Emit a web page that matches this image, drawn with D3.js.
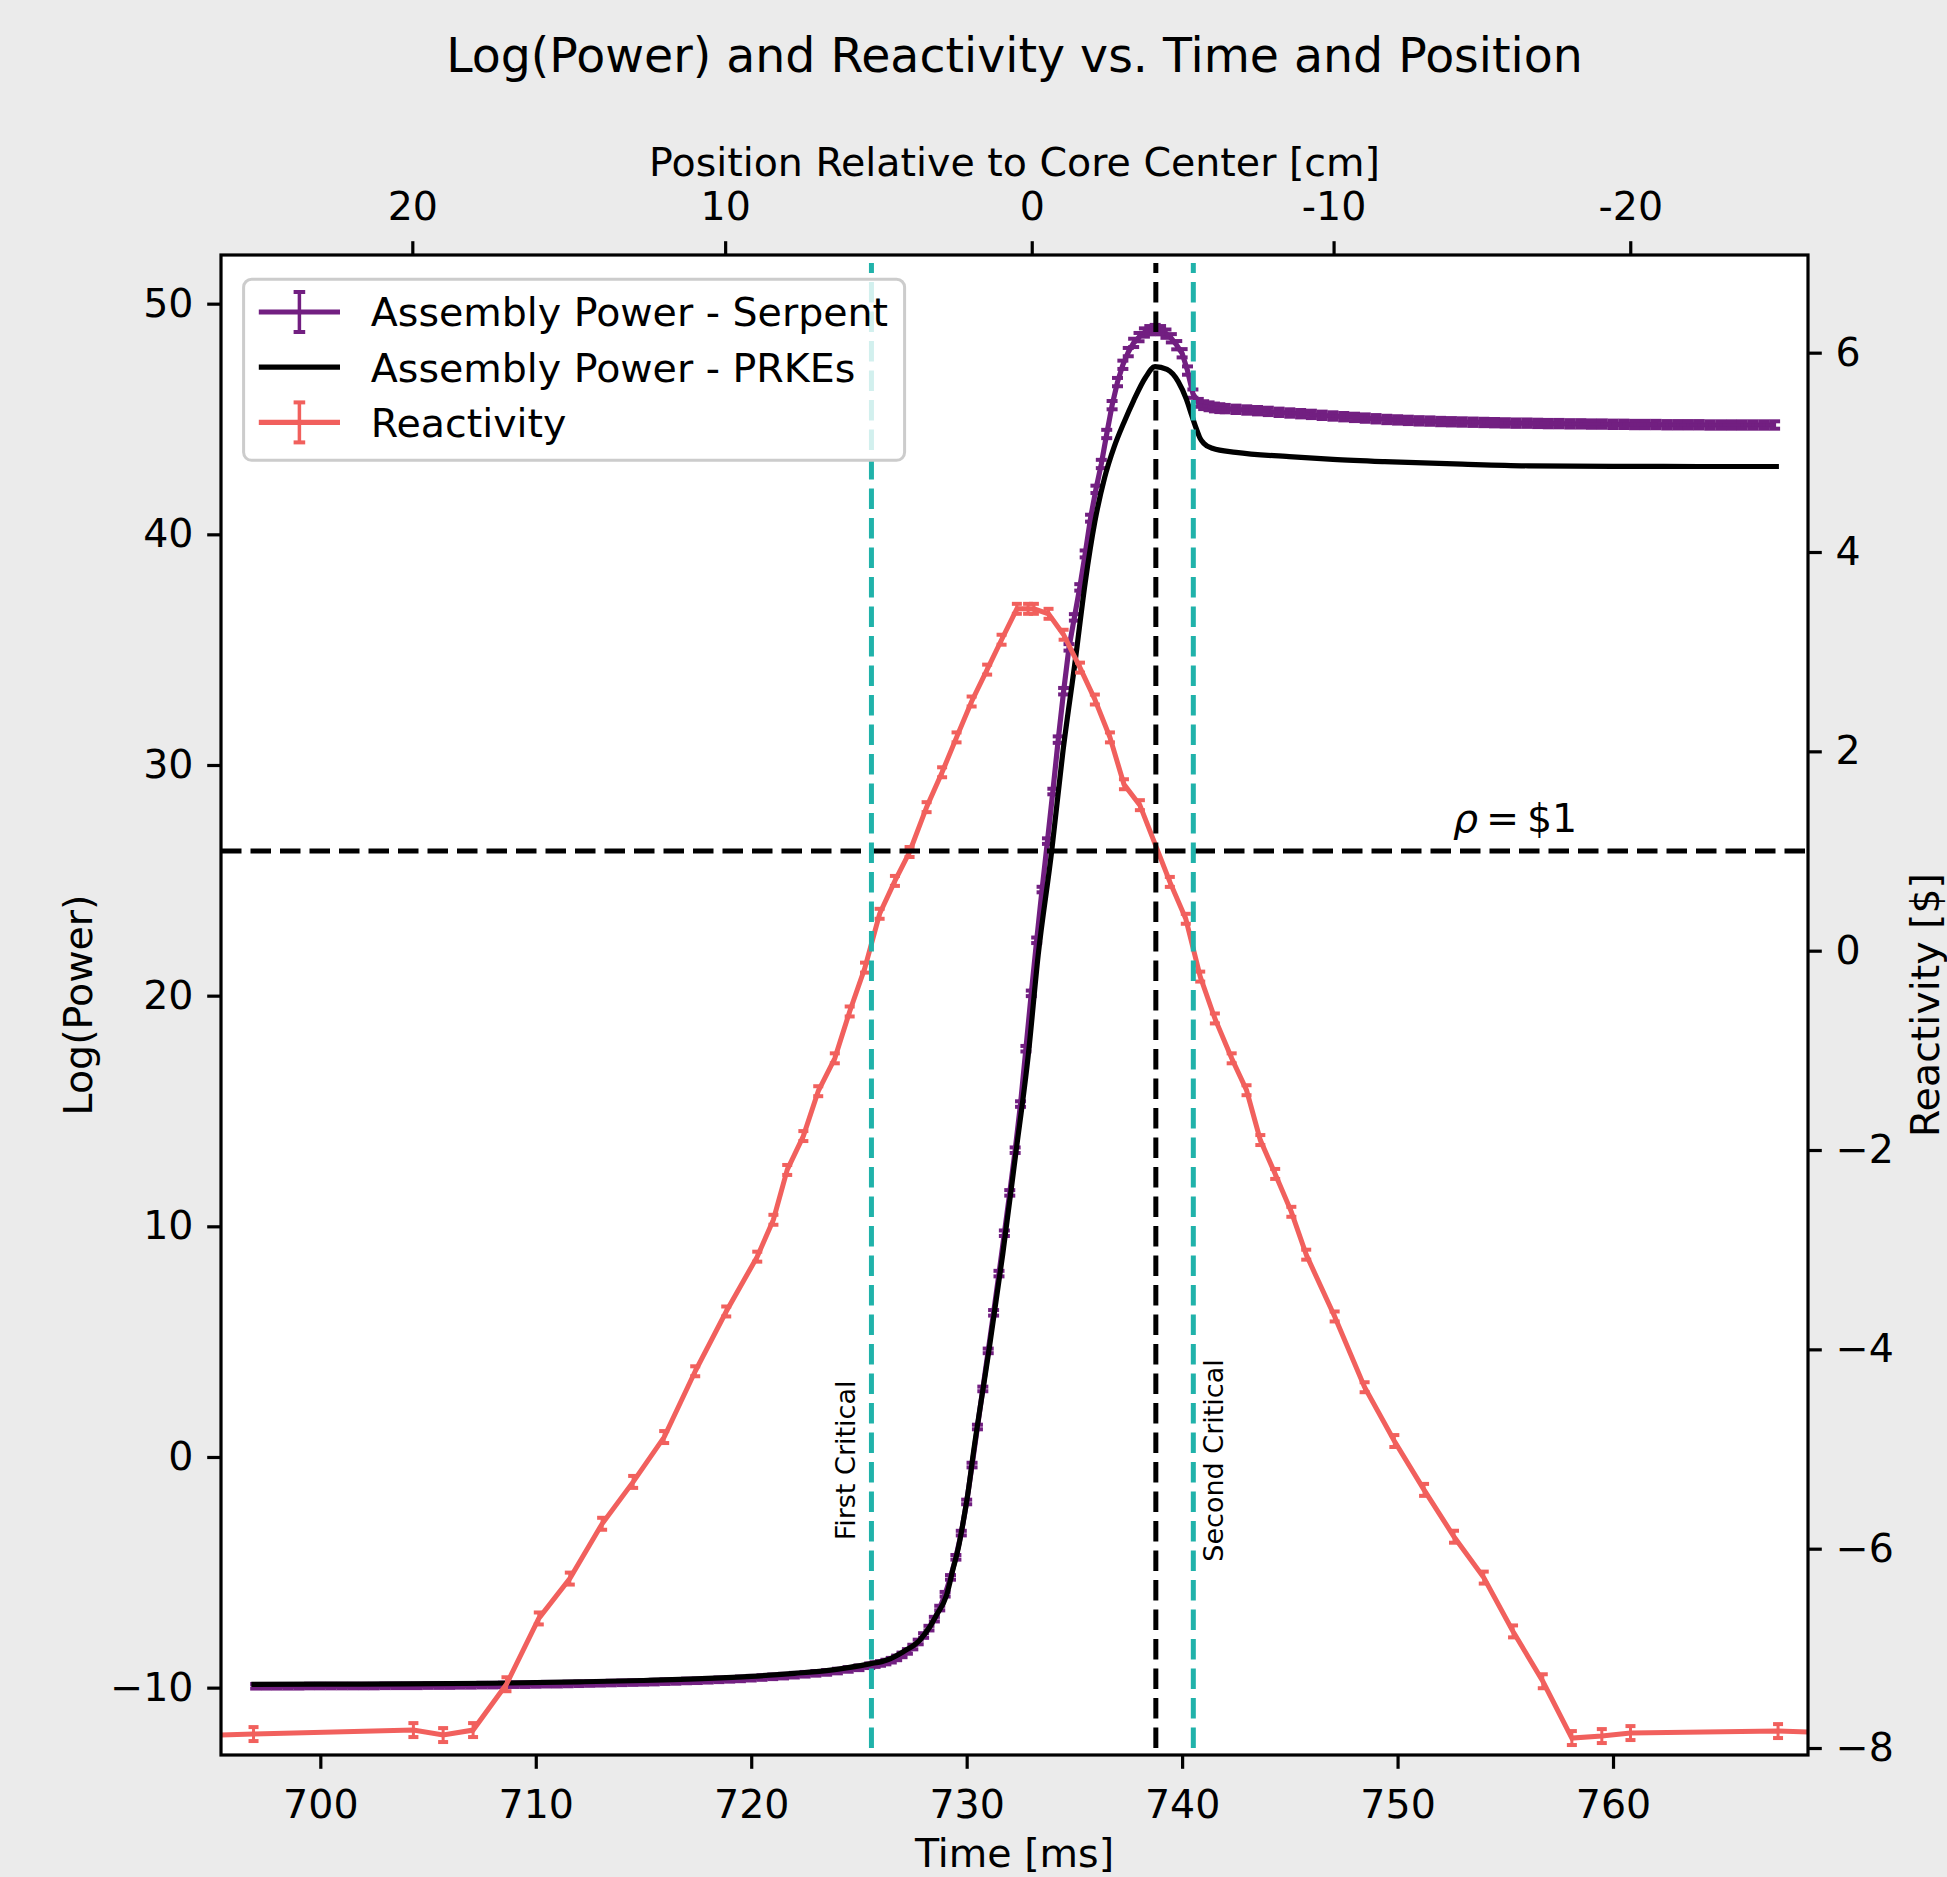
<!DOCTYPE html>
<html>
<head>
<meta charset="utf-8">
<script src="https://cdn.jsdelivr.net/npm/d3@7"></script>
<style>
  body { margin: 0; background: #ebebeb; }
  text { font-family: "DejaVu Sans", sans-serif; }
</style>
</head>
<body>
<svg id="chart"></svg>
<script>
// ---- data ----
const timeTicks = [700, 710, 720, 730, 740, 750, 760];
const logPowerTicks = [-10, 0, 10, 20, 30, 40, 50];
const reactivityTicks = [-8, -6, -4, -2, 0, 2, 4, 6];
// top axis: rod position [cm] and the time [ms] at which it is reached
const positionTicks = [20, 10, 0, -10, -20];
const positionTickTimes = [704.27, 718.79, 733.02, 747.03, 760.80];

const criticalTimes = [725.58, 740.52];
const criticalLabels = ["First Critical", "Second Critical"];
const peakTime = 738.78;
const dollarLevel = 1;

// Serpent assembly power (log), with 1-sigma
const serpentTime = [
  697.0, 697.5, 698.0, 698.5, 699.0, 699.5, 700.0, 700.5, 701.0, 701.5, 702.0, 702.5, 703.0, 703.5,
  704.0, 704.5, 705.0, 705.5, 706.0, 706.5, 707.0, 707.5, 708.0, 708.5, 709.0, 709.5, 710.0, 710.5,
  711.0, 711.5, 712.0, 712.5, 713.0, 713.5, 714.0, 714.5, 715.0, 715.5, 716.0, 716.5, 717.0, 717.5,
  718.0, 718.5, 719.0, 719.5, 720.0, 720.5, 721.0, 721.5, 722.0, 722.5, 723.0, 723.5, 724.0, 724.5,
  725.0, 725.5,
  725.75, 726.0, 726.25, 726.5, 726.75, 727.0, 727.25, 727.5, 727.75, 728.0, 728.25, 728.5, 728.75,
  729.0, 729.25, 729.5, 729.75, 730.0, 730.25, 730.5, 730.75, 731.0, 731.25, 731.5, 731.75, 732.0,
  732.25, 732.5, 732.75, 733.0, 733.25, 733.5, 733.75, 734.0, 734.25, 734.5, 734.75, 735.0, 735.25,
  735.5, 735.75, 736.0, 736.25, 736.5, 736.75, 737.0, 737.25, 737.5, 737.75, 738.0, 738.25, 738.5,
  738.75, 739.0, 739.25, 739.5, 739.75, 740.0, 740.25, 740.5, 740.75, 741.0, 741.25, 741.5, 741.75,
  742.0, 742.5, 743.0, 743.5, 744.0, 744.5, 745.0, 745.5, 746.0, 746.5, 747.0, 747.5, 748.0, 748.5,
  749.0, 749.5, 750.0, 750.5, 751.0, 751.5, 752.0, 752.5, 753.0, 753.5, 754.0, 754.5, 755.0, 755.5,
  756.0, 756.5, 757.0, 757.5, 758.0, 758.5, 759.0, 759.5, 760.0, 760.5, 761.0, 761.5, 762.0, 762.5,
  763.0, 763.5, 764.0, 764.5, 765.0, 765.5, 766.0, 766.5, 767.0, 767.5
];
const serpentLogP = [
  -9.94, -9.94, -9.94, -9.94, -9.94, -9.93, -9.93, -9.93, -9.93, -9.93, -9.93, -9.93, -9.92, -9.92,
  -9.92, -9.92, -9.91, -9.91, -9.91, -9.90, -9.90, -9.89, -9.89, -9.88, -9.87, -9.87, -9.86, -9.85,
  -9.85, -9.84, -9.83, -9.82, -9.81, -9.80, -9.79, -9.78, -9.77, -9.76, -9.74, -9.73, -9.71, -9.70,
  -9.68, -9.66, -9.64, -9.62, -9.59, -9.56, -9.53, -9.50, -9.46, -9.42, -9.38, -9.34, -9.28, -9.21,
  -9.14, -9.05,
  -9.00, -8.95, -8.89, -8.81, -8.71, -8.58, -8.43, -8.24, -8.02, -7.74, -7.42, -7.03, -6.55,
  -5.95, -5.22, -4.35, -3.30, -1.95, -0.35, 1.30, 2.95, 4.60, 6.25, 7.95, 9.70, 11.45,
  13.30, 15.30, 17.70, 20.10, 22.40, 24.60, 26.70, 28.85, 31.10, 33.20, 35.10, 36.40, 37.70,
  39.15, 40.70, 41.95, 43.05, 44.35, 45.60, 46.60, 47.35, 47.90, 48.30, 48.55, 48.75, 48.85,
  48.90, 48.85, 48.70, 48.50, 48.20, 47.85, 47.10, 46.10, 45.70, 45.60, 45.55, 45.50, 45.47,
  45.45, 45.42, 45.39, 45.36, 45.33, 45.29, 45.26, 45.23, 45.20, 45.16, 45.13, 45.10, 45.07, 45.04,
  45.01, 44.98, 44.96, 44.94, 44.92, 44.91, 44.89, 44.88, 44.87, 44.86, 44.85, 44.84, 44.83, 44.82,
  44.82, 44.81, 44.80, 44.80, 44.79, 44.79, 44.78, 44.78, 44.77, 44.77, 44.76, 44.76, 44.76, 44.75,
  44.75, 44.75, 44.75, 44.74, 44.74, 44.74, 44.74, 44.74, 44.74, 44.74
];
const serpentErr = [
  0.10, 0.10, 0.10, 0.10, 0.10, 0.10, 0.10, 0.10, 0.10, 0.10, 0.10, 0.10, 0.10, 0.10,
  0.10, 0.10, 0.10, 0.10, 0.10, 0.10, 0.10, 0.10, 0.10, 0.10, 0.10, 0.10, 0.10, 0.10,
  0.10, 0.10, 0.10, 0.10, 0.10, 0.10, 0.10, 0.10, 0.10, 0.10, 0.10, 0.10, 0.10, 0.10,
  0.10, 0.10, 0.10, 0.10, 0.10, 0.10, 0.10, 0.10, 0.10, 0.10, 0.10, 0.10, 0.10, 0.10,
  0.10, 0.10,
  0.10, 0.10, 0.10, 0.10, 0.10, 0.10, 0.10, 0.10, 0.10, 0.10, 0.10, 0.10, 0.10,
  0.10, 0.10, 0.10, 0.10, 0.10, 0.10, 0.10, 0.10, 0.10, 0.12, 0.12, 0.12, 0.12,
  0.12, 0.12, 0.12, 0.12, 0.12, 0.12, 0.12, 0.12, 0.14, 0.14, 0.14, 0.14, 0.14,
  0.15, 0.15, 0.16, 0.18, 0.18, 0.18, 0.18, 0.18, 0.18, 0.18, 0.18, 0.18, 0.18,
  0.18, 0.18, 0.18, 0.18, 0.18, 0.18, 0.18, 0.18, 0.17, 0.17, 0.17, 0.17, 0.17,
  0.16, 0.16, 0.16, 0.16, 0.16, 0.16, 0.16, 0.16, 0.16, 0.16, 0.16, 0.16, 0.16, 0.16,
  0.16, 0.16, 0.16, 0.16, 0.16, 0.16, 0.16, 0.16, 0.16, 0.16, 0.16, 0.16, 0.16, 0.16,
  0.16, 0.16, 0.16, 0.16, 0.16, 0.16, 0.16, 0.16, 0.16, 0.16, 0.16, 0.16, 0.16, 0.16,
  0.16, 0.16, 0.16, 0.16, 0.16, 0.16, 0.16, 0.16, 0.16, 0.16
];

// point-kinetics (PRKE) assembly power (log)
const prkeTime = [
  696.8, 700.0, 704.0, 708.0, 712.0, 715.0, 718.0, 720.0, 722.0, 723.5, 724.5, 725.5, 726.3, 727.06,
  727.83, 728.29, 728.6, 729.07, 729.38, 729.61, 729.84, 730.07, 730.3, 731.0, 731.67, 732.27, 732.86,
  733.32, 733.94, 734.45, 735.05, 735.5, 735.95, 736.4, 736.85, 737.3, 737.75, 738.3, 738.74, 739.3,
  739.82, 740.2, 740.44, 740.65, 740.83, 741.0, 741.4, 742.5, 744.97, 747.0, 749.4, 753.0, 756.06,
  760.0, 764.0, 767.7
];
const prkeLogP = [
  -9.86, -9.85, -9.84, -9.81, -9.75, -9.69, -9.60, -9.51, -9.38, -9.26, -9.13, -8.97, -8.80, -8.44,
  -7.93, -7.36, -6.85, -5.98, -4.81, -3.96, -2.81, -1.50, 0.09, 4.42, 8.76, 13.09, 17.43,
  21.76, 26.22, 30.44, 34.60, 37.90, 40.55, 42.45, 43.80, 44.85, 45.80, 46.80, 47.27, 47.15,
  46.62, 45.85, 45.18, 44.60, 44.17, 43.95, 43.73, 43.55, 43.37, 43.25, 43.15, 43.04, 42.97,
  42.95, 42.94, 42.94
];

// reactivity [$], with 1-sigma
const reactTime = [
  690.0, 696.9, 704.32, 705.70, 707.09, 708.64, 710.14, 711.58, 713.08, 714.52, 715.96, 717.40, 718.84,
  720.28, 721.03, 721.67, 722.42, 723.11, 723.88, 724.57, 725.28, 725.96, 726.67, 727.35, 728.14,
  728.86, 729.53, 730.23, 730.95, 731.62, 732.33, 732.85, 733.12, 733.80, 734.50, 735.26, 735.95,
  736.65, 737.30, 738.04, 739.43, 740.17, 740.84, 741.52, 742.30, 742.99, 743.63, 744.32, 745.07,
  745.76, 747.08, 748.47, 749.85, 751.23, 752.62, 754.00, 755.36, 756.74, 758.09, 759.48, 760.81,
  767.66, 775.0
];
const reactDollars = [
  -7.90, -7.86, -7.82, -7.87, -7.82, -7.36, -6.70, -6.30, -5.75, -5.33, -4.88, -4.22, -3.62,
  -3.07, -2.70, -2.20, -1.86, -1.41, -1.08, -0.61, -0.17, 0.37, 0.70, 0.99, 1.44,
  1.79, 2.14, 2.50, 2.82, 3.12, 3.43, 3.43, 3.43, 3.38, 3.17, 2.84, 2.52,
  2.14, 1.67, 1.46, 0.69, 0.32, -0.26, -0.68, -1.08, -1.40, -1.90, -2.24, -2.62,
  -3.05, -3.67, -4.38, -4.92, -5.41, -5.88, -6.29, -6.83, -7.33, -7.90, -7.88, -7.85,
  -7.83, -7.88
];
const reactErr = [
  0.07, 0.07, 0.07, 0.07, 0.07, 0.07, 0.06, 0.06, 0.06, 0.06, 0.06, 0.05, 0.05,
  0.05, 0.05, 0.05, 0.05, 0.05, 0.05, 0.05, 0.05, 0.05, 0.05, 0.05, 0.05,
  0.05, 0.05, 0.05, 0.05, 0.05, 0.05, 0.05, 0.05, 0.05, 0.05, 0.05, 0.05,
  0.05, 0.05, 0.05, 0.05, 0.05, 0.05, 0.05, 0.05, 0.05, 0.05, 0.05, 0.05,
  0.05, 0.05, 0.05, 0.06, 0.06, 0.06, 0.06, 0.06, 0.07, 0.07, 0.07, 0.07,
  0.07, 0.07
];

// ---- layout ----
const W = 1947, H = 1877;
const margin = { top: 255, right: 139, bottom: 122, left: 221 };
const plotW = W - margin.left - margin.right;
const plotH = H - margin.top - margin.bottom;

const purple = "#721f81";
const coral = "#f1605d";
const teal = "#20b2aa";
const fontSize = 39.5;

const svg = d3.select("#chart").attr("width", W).attr("height", H);
svg.append("rect").attr("width", W).attr("height", H).attr("fill", "#ebebeb");

const x = d3.scaleLinear().domain([695.39, 769.05]).range([margin.left, margin.left + plotW]);
const yL = d3.scaleLinear().domain([-12.92, 52.11]).range([margin.top + plotH, margin.top]);
const yR = d3.scaleLinear().domain([-8.07, 6.98]).range([margin.top + plotH, margin.top]);
const posScale = d3.scaleLinear().domain(positionTicks).range(positionTickTimes.map(x));

svg.append("rect")
  .attr("x", margin.left).attr("y", margin.top)
  .attr("width", plotW).attr("height", plotH)
  .attr("fill", "#fff");

svg.append("clipPath").attr("id", "plot-clip")
  .append("rect")
  .attr("x", margin.left).attr("y", margin.top)
  .attr("width", plotW).attr("height", plotH);

const plot = svg.append("g").attr("clip-path", "url(#plot-clip)");

// draw vertical error bars with caps
function errorbars(g, xs, ys, errs, yScale, color, capHalf, capWidth) {
  const bars = g.append("g");
  xs.forEach((t, i) => {
    const cx = x(t);
    const y0 = yScale(ys[i] - errs[i]);
    const y1 = yScale(ys[i] + errs[i]);
    bars.append("line")
      .attr("x1", cx).attr("x2", cx).attr("y1", y0).attr("y2", y1)
      .attr("stroke", color).attr("stroke-width", 3);
    [y0, y1].forEach(yy => {
      bars.append("line")
        .attr("x1", cx - capHalf).attr("x2", cx + capHalf)
        .attr("y1", yy).attr("y2", yy)
        .attr("stroke", color).attr("stroke-width", capWidth);
    });
  });
}

// Serpent power
const serpentLine = d3.line().x((d, i) => x(serpentTime[i])).y(d => yL(d));
plot.append("path")
  .datum(serpentLogP)
  .attr("d", serpentLine)
  .attr("fill", "none")
  .attr("stroke", purple)
  .attr("stroke-width", 5.2);
errorbars(plot, serpentTime, serpentLogP, serpentErr, yL, purple, 5.5, 4);

// PRKE power
const prkeLine = d3.line()
  .x((d, i) => x(prkeTime[i]))
  .y(d => yL(d))
  .curve(d3.curveMonotoneX);
plot.append("path")
  .datum(prkeLogP)
  .attr("d", prkeLine)
  .attr("fill", "none")
  .attr("stroke", "#000")
  .attr("stroke-width", 5.2);

// reactivity
const reactLine = d3.line().x((d, i) => x(reactTime[i])).y(d => yR(d));
plot.append("path")
  .datum(reactDollars)
  .attr("d", reactLine)
  .attr("fill", "none")
  .attr("stroke", coral)
  .attr("stroke-width", 5);
errorbars(plot, reactTime, reactDollars, reactErr, yR, coral, 5, 4);

// $1 line
plot.append("line")
  .attr("x1", margin.left).attr("x2", margin.left + plotW)
  .attr("y1", yR(dollarLevel)).attr("y2", yR(dollarLevel))
  .attr("stroke", "#000").attr("stroke-width", 5)
  .attr("stroke-dasharray", "20.5,9");

// vertical markers (drawn bottom -> top so the dash pattern starts at the bottom)
const vlines = [
  { t: criticalTimes[0], color: teal },
  { t: peakTime, color: "#000" },
  { t: criticalTimes[1], color: teal }
];
vlines.forEach(v => {
  plot.append("line")
    .attr("x1", x(v.t)).attr("x2", x(v.t))
    .attr("y1", yR(-8)).attr("y2", yR(6.9))
    .attr("stroke", v.color).attr("stroke-width", 5)
    .attr("stroke-dasharray", "20.5,9");
});

// annotations
const critOffsets = [-16, 30];
criticalTimes.forEach((t, i) => {
  svg.append("text")
    .attr("transform", `translate(${x(t) + critOffsets[i]},${yL(-0.15)}) rotate(-90)`)
    .attr("text-anchor", "middle")
    .attr("font-size", 27)
    .attr("fill", "#000")
    .text(criticalLabels[i]);
});

const rho = svg.append("text")
  .attr("x", x(752.57)).attr("y", yR(1.19))
  .attr("font-size", fontSize)
  .attr("fill", "#000");
rho.append("tspan").attr("font-style", "italic").text("ρ");
rho.append("tspan").text("\u2009=\u2009$1");

// frame
svg.append("rect")
  .attr("x", margin.left).attr("y", margin.top)
  .attr("width", plotW).attr("height", plotH)
  .attr("fill", "none").attr("stroke", "#000").attr("stroke-width", 3.2);

// axes
function styleAxis(g) {
  g.select(".domain").remove();
  g.attr("font-family", null).attr("font-size", null);
  g.selectAll(".tick line").attr("stroke", "#000").attr("stroke-width", 3.2);
  g.selectAll(".tick text").attr("font-size", fontSize).attr("fill", "#000");
}

svg.append("g")
  .attr("transform", `translate(0,${margin.top + plotH})`)
  .call(d3.axisBottom(x).tickValues(timeTicks).tickSize(13.8).tickPadding(21))
  .call(styleAxis);

svg.append("g")
  .attr("transform", `translate(0,${margin.top})`)
  .call(d3.axisTop(posScale).tickValues(positionTicks).tickFormat(d => String(d)).tickSize(13.8).tickPadding(21))
  .call(styleAxis);

svg.append("g")
  .attr("transform", `translate(${margin.left},0)`)
  .call(d3.axisLeft(yL).tickValues(logPowerTicks).tickSize(13.8).tickPadding(13.8))
  .call(styleAxis);

svg.append("g")
  .attr("transform", `translate(${margin.left + plotW},0)`)
  .call(d3.axisRight(yR).tickValues(reactivityTicks).tickSize(13.8).tickPadding(13.8))
  .call(styleAxis);

// titles and axis labels
svg.append("text")
  .attr("x", margin.left + plotW / 2).attr("y", 72)
  .attr("text-anchor", "middle").attr("font-size", 47.4).attr("fill", "#000")
  .text("Log(Power) and Reactivity vs. Time and Position");

svg.append("text")
  .attr("x", margin.left + plotW / 2).attr("y", 175.5)
  .attr("text-anchor", "middle").attr("font-size", fontSize).attr("fill", "#000")
  .text("Position Relative to Core Center [cm]");

svg.append("text")
  .attr("x", margin.left + plotW / 2).attr("y", 1867)
  .attr("text-anchor", "middle").attr("font-size", fontSize).attr("fill", "#000")
  .text("Time [ms]");

svg.append("text")
  .attr("transform", `translate(92,${margin.top + plotH / 2}) rotate(-90)`)
  .attr("text-anchor", "middle").attr("font-size", fontSize).attr("fill", "#000")
  .text("Log(Power)");

svg.append("text")
  .attr("transform", `translate(1939,${margin.top + plotH / 2}) rotate(-90)`)
  .attr("text-anchor", "middle").attr("font-size", fontSize).attr("fill", "#000")
  .text("Reactivity [$]");

// legend
const legend = svg.append("g").attr("transform", "translate(243.6,279.3)");
legend.append("rect")
  .attr("width", 661).attr("height", 181).attr("rx", 8)
  .attr("fill", "rgba(255,255,255,0.8)")
  .attr("stroke", "#cccccc").attr("stroke-width", 3);

const legendItems = [
  { label: "Assembly Power - Serpent", color: purple, err: true },
  { label: "Assembly Power - PRKEs", color: "#000", err: false },
  { label: "Reactivity", color: coral, err: true }
];
legendItems.forEach((item, i) => {
  const row = legend.append("g").attr("transform", `translate(0,${32.7 + i * 55.2})`);
  row.append("line")
    .attr("x1", 15.2).attr("x2", 96.4).attr("y1", 0).attr("y2", 0)
    .attr("stroke", item.color).attr("stroke-width", 5.2);
  if (item.err) {
    row.append("line").attr("x1", 55.8).attr("x2", 55.8).attr("y1", -20).attr("y2", 20)
      .attr("stroke", item.color).attr("stroke-width", 3.5);
    [-20, 20].forEach(yy => {
      row.append("line").attr("x1", 50).attr("x2", 61.6).attr("y1", yy).attr("y2", yy)
        .attr("stroke", item.color).attr("stroke-width", 4);
    });
  }
  row.append("text")
    .attr("x", 127.2).attr("y", 14.3)
    .attr("font-size", fontSize).attr("fill", "#000")
    .text(item.label);
});
</script>
</body>
</html>
